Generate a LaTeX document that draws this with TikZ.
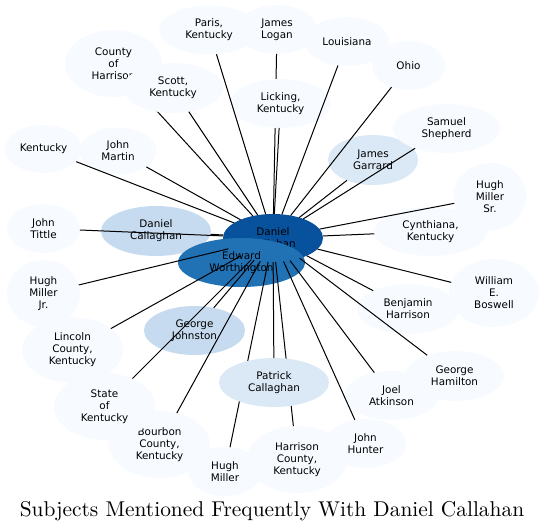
\documentclass[tikz,border=0pt]{standalone}
\usepackage{fontspec}
\newfontfamily\nodefont{DejaVu Sans}
\newfontfamily\titlefont{lmroman10-regular}[Extension=.otf]
\usetikzlibrary{shapes.geometric}
\definecolor{cA}{HTML}{F7FBFF}
\definecolor{cB}{HTML}{DBE9F6}
\definecolor{cC}{HTML}{C6DBEF}
\definecolor{cE}{HTML}{2171B5}
\definecolor{cF}{HTML}{08519C}
\tikzset{
  nd/.style={ellipse, draw=none, fill=cA, inner sep=0pt, outer sep=0pt, align=center,
    font=\nodefont\fontsize{10.4}{12}\selectfont, text=black},
  lk/.style={draw=black, line width=1pt},
  ttl/.style={font=\titlefont\fontsize{21.4}{24}\selectfont, inner sep=0pt}
}
\newcommand\vn[7]{\node[nd, fill=#6, minimum width=#4pt, minimum height=#5pt] (#1) at (#2,#3) {#7};}
\begin{document}
\begin{tikzpicture}[x=1pt,y=-1pt]
\useasboundingbox (0,0) rectangle (544,532);
% base layer of nodes
\vn{coh}{113.5}{63.5}{97}{67}{cA}{County\\of\\Harrison}
\vn{bc}{159.5}{444.5}{101}{67}{cA}{Bourbon\\County,\\Kentucky}
\vn{dcg}{156}{231}{110}{50}{cC}{Daniel\\Callaghan}
\vn{gj}{194.5}{330.5}{101}{49}{cC}{George\\Johnston}
\vn{jg}{373}{160}{90}{50}{cB}{James\\Garrard}
\vn{cyn}{430.5}{231.5}{113}{49}{cA}{Cynthiana,\\Kentucky}
\vn{paris}{209}{30}{100}{49}{cA}{Paris,\\Kentucky}
\vn{jl}{277}{29.5}{80}{49}{cA}{James\\Logan}
\vn{lou}{347}{41.5}{84}{49}{cA}{Louisiana}
\vn{ohio}{408.5}{65.5}{73}{49}{cA}{Ohio}
\vn{ss}{446.5}{128.5}{107}{49}{cA}{Samuel\\Shepherd}
\vn{ky}{43.5}{149}{77}{48}{cA}{Kentucky}
\vn{jm}{118}{151}{77}{47}{cA}{John\\Martin}
\vn{hms}{490}{196.5}{73}{67}{cA}{Hugh\\Miller\\Sr.}
\vn{jt}{43.5}{228.5}{73}{49}{cA}{John\\Tittle}
\vn{hmj}{43.5}{293.5}{73}{67}{cA}{Hugh\\Miller\\Jr.}
\vn{bh}{408}{309}{102}{50}{cA}{Benjamin\\Harrison}
\vn{wb}{494}{293}{90}{68}{cA}{William\\E.\\Boswell}
\vn{lc}{72.5}{350}{101}{66}{cA}{Lincoln\\County,\\Kentucky}
\vn{hm}{225}{471.5}{74}{49}{cA}{Hugh\\Miller}
\vn{hc}{297}{459.5}{100}{67}{cA}{Harrison\\County,\\Kentucky}
\vn{jh}{365.5}{443.5}{81}{49}{cA}{John\\Hunter}
\vn{ja}{391.5}{395.5}{95}{49}{cA}{Joel\\Atkinson}
\vn{gh}{454.5}{376}{99}{50}{cA}{George\\Hamilton}
\vn{dc}{273}{238}{100}{48}{cF}{Daniel\\Callahan}
\vn{ew}{241.5}{262.5}{127}{49}{cE}{Edward\\Worthington}
% edges that are partly hidden by later nodes
\draw[lk] (dc) -- (coh);
\draw[lk] (dc) -- (jl);
\draw[lk] (dc) -- (hm);
\draw[lk] (dc) -- (hc);
% nodes drawn over those edges
\vn{scott}{173}{88}{100}{50}{cA}{Scott,\\Kentucky}
\vn{lick}{280.5}{103.5}{101}{49}{cA}{Licking,\\Kentucky}
\vn{pc}{274}{382.5}{110}{49}{cB}{Patrick\\Callaghan}
\vn{sk}{104.5}{406.5}{101}{67}{cA}{State\\of\\Kentucky}
% remaining edges
\foreach \t in {scott,lick,pc,sk,bc,dcg,gj,jg,cyn,paris,lou,ohio,ss,ky,jm,hms,jt,hmj,bh,wb,lc,jh,ja,gh}
  \draw[lk] (dc) -- (\t);
\node[ttl] (title) at (272,511) {Subjects Mentioned Frequently With Daniel Callahan};
\end{tikzpicture}
\end{document}
